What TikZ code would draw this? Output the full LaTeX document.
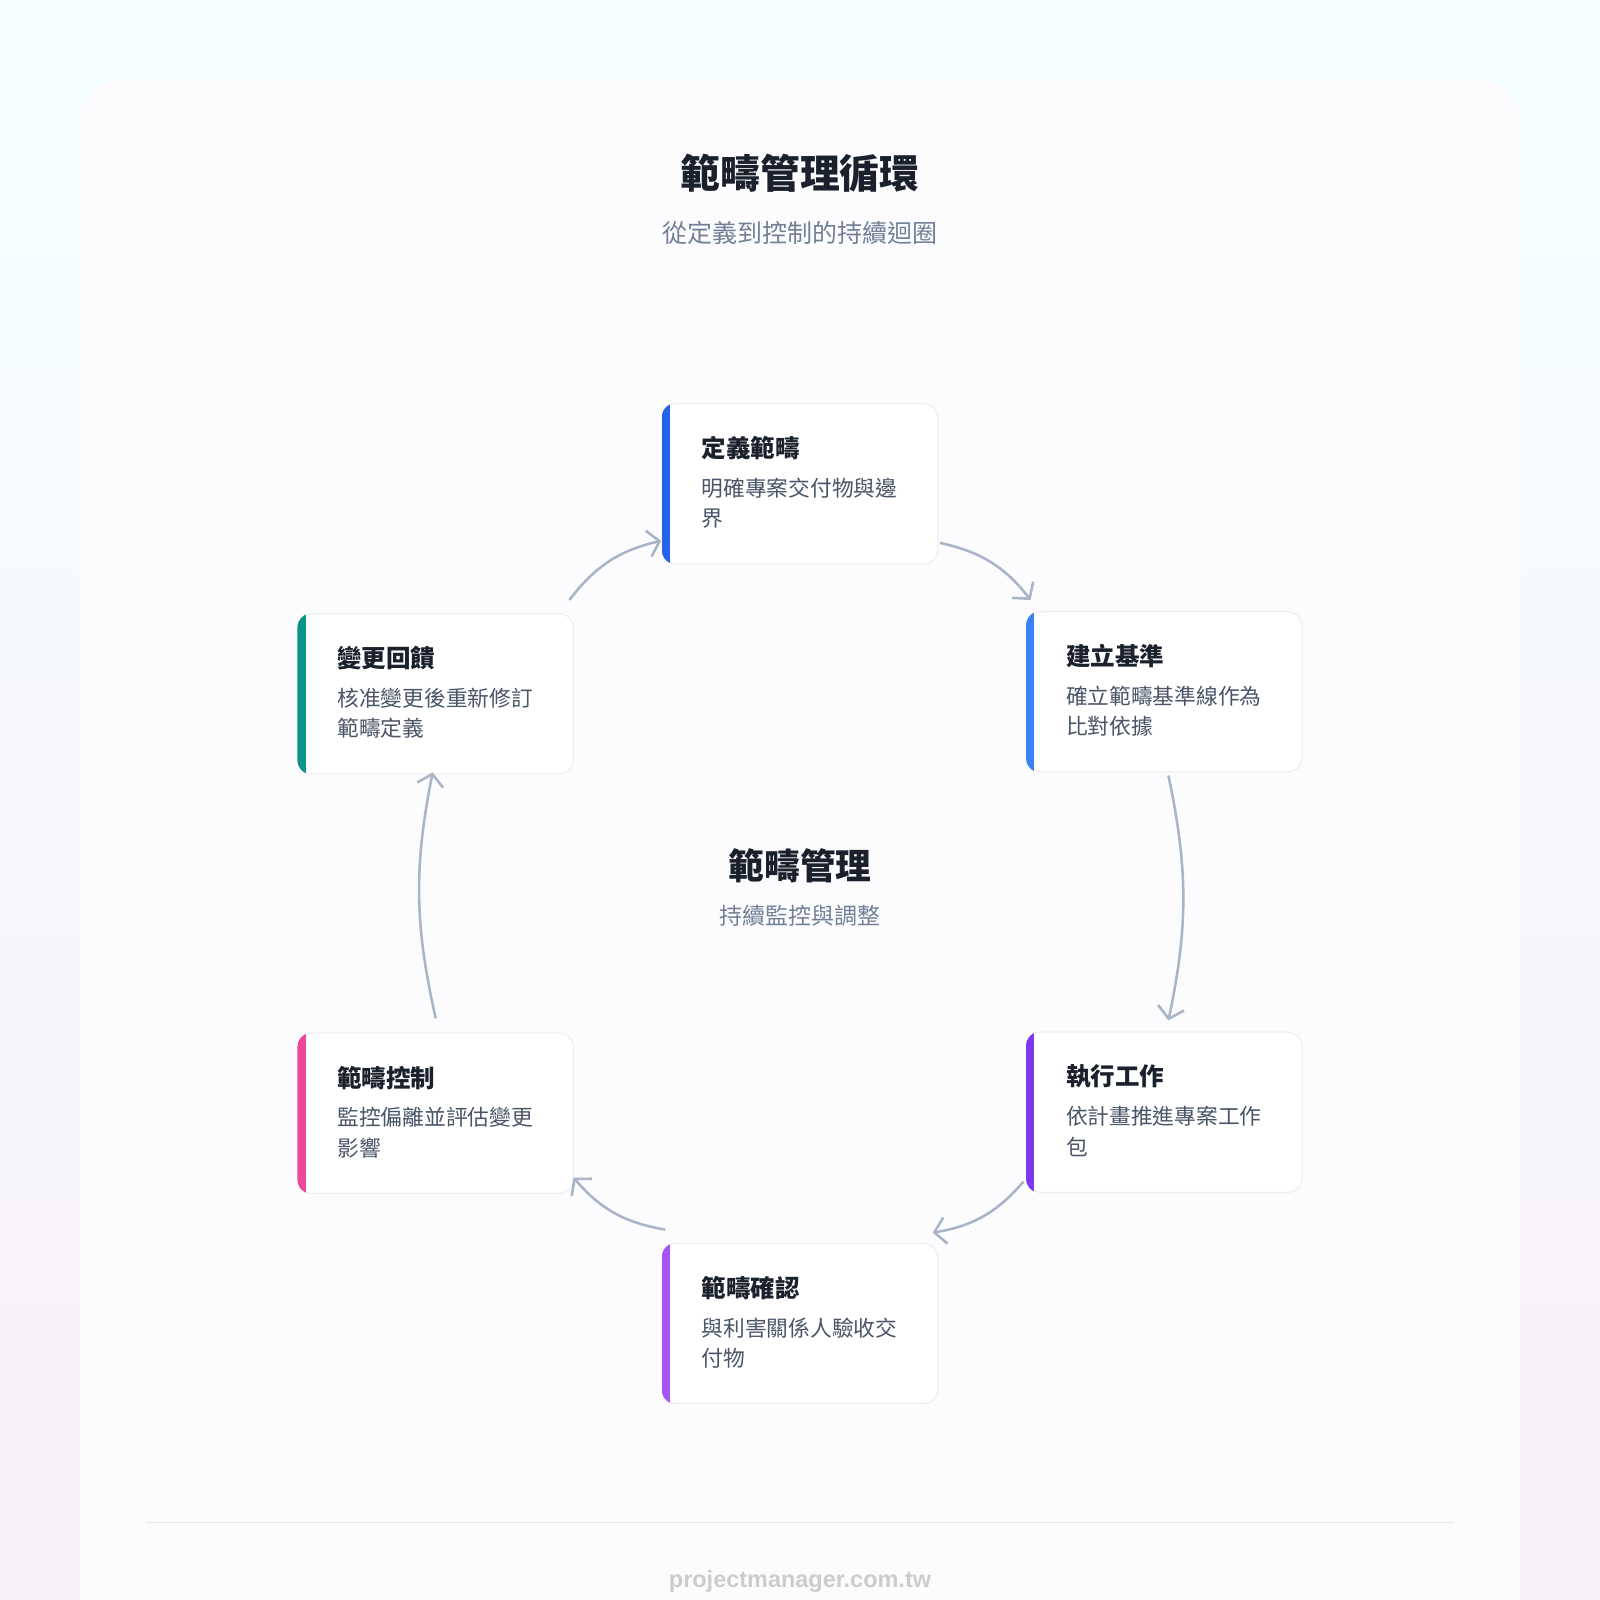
\documentclass[tikz,border=0pt]{standalone}
\usepackage{fontspec}
\setmainfont{Noto Sans CJK TC}
\newfontfamily\latinfont{Liberation Sans}
\usetikzlibrary{arrows.meta,positioning}
\definecolor{ink}{HTML}{1A202C}
\definecolor{muted}{HTML}{718096}
\definecolor{descgray}{HTML}{4A5568}
\definecolor{flow}{HTML}{A9B5C6}
\definecolor{cBlue}{HTML}{2563EB}
\definecolor{cSky}{HTML}{3B82F6}
\definecolor{cViolet}{HTML}{7C3AED}
\definecolor{cPurple}{HTML}{A855F7}
\definecolor{cPink}{HTML}{EC4899}
\definecolor{cTeal}{HTML}{0D9488}
\tikzset{
  stagebox/.style={draw=black!7,line width=1pt,fill=white,rounded corners=14pt,
    minimum width=270pt,minimum height=157pt,inner sep=0pt},
  stagetitle/.style={anchor=west,font=\fontsize{24}{27}\selectfont\bfseries,text=ink,inner sep=0pt},
  stagedesc/.style={anchor=north west,font=\fontsize{21.3}{30}\selectfont,text=descgray,
    inner sep=0pt,text width=222pt,align=left},
  flowarrow/.style={draw=flow,line width=2.5pt,-{Straight Barb[length=11pt,width=26pt,line width=2.5pt]}},
}
% one stage card: name, centre, colour, title, description
\newcommand{\stage}[5]{%
  \node[stagebox] (#1) at (#2) {};
  \begin{scope}
    \clip[rounded corners=14pt] (#1.south west) rectangle (#1.north east);
    \fill[#3] (#1.south west) rectangle ([xshift=8pt]#1.north west);
  \end{scope}
  \node[stagetitle] (#1-t) at ([xshift=39pt,yshift=-44pt]#1.north west) {#4};
  \node[stagedesc] (#1-d) at ([xshift=39pt,yshift=-73pt]#1.north west) {#5};
}
\begin{document}
\begin{tikzpicture}[x=1pt,y=-1pt]
  \shade[top color=white!92!cyan!50,bottom color=white!94!violet] (0,0) rectangle (1568,1568);
  \useasboundingbox (0,0) rectangle (1568,1568);
  \fill[white!97!blue!40,rounded corners=40pt] (78,78) rectangle (1490,1620);
  % titles
  \node[font=\fontsize{39}{44}\selectfont\bfseries,text=ink] (title) at (784,170) {範疇管理循環};
  \node[font=\fontsize{24.5}{28}\selectfont,text=muted] (subtitle) at (784,228) {從定義到控制的持續迴圈};
  % stages
  \stage{define}{784,474}{cBlue}{定義範疇}{明確專案交付物與邊\\界}
  \stage{baseline}{1141,678}{cSky}{建立基準}{確立範疇基準線作為\\比對依據}
  \stage{execute}{1141,1090}{cViolet}{執行工作}{依計畫推進專案工作\\包}
  \stage{verify}{784,1297}{cPurple}{範疇確認}{與利害關係人驗收交\\付物}
  \stage{control}{427,1091}{cPink}{範疇控制}{監控偏離並評估變更\\影響}
  \stage{feedback}{427,680}{cTeal}{變更回饋}{核准變更後重新修訂\\範疇定義}
  % centre
  \node[font=\fontsize{35}{40}\selectfont\bfseries,text=ink] (core) at (784,848) {範疇管理};
  \node[font=\fontsize{22.5}{26}\selectfont,text=muted] (coresub) at (784,897) {持續監控與調整};
  % flow arrows
  \coordinate (a1s) at (921,532); \coordinate (a1e) at (1010,588);
  \coordinate (a2s) at (1145,760); \coordinate (a2e) at (1145,1000);
  \coordinate (a3s) at (1003,1158); \coordinate (a3e) at (914,1208);
  \coordinate (a4s) at (652,1205); \coordinate (a4e) at (562,1154);
  \coordinate (a5s) at (427,998); \coordinate (a5e) at (424,757);
  \coordinate (a6s) at (558,588); \coordinate (a6e) at (648,530);
  \draw[flowarrow] (a1s) to[bend left=20] (a1e);
  \draw[flowarrow] (a2s) to[bend left=12] (a2e);
  \draw[flowarrow] (a3s) to[bend left=20] (a3e);
  \draw[flowarrow] (a4s) to[bend left=20] (a4e);
  \draw[flowarrow] (a5s) to[bend left=12] (a5e);
  \draw[flowarrow] (a6s) to[bend left=20] (a6e);
  % footer
  \draw[black!10,line width=1.2pt] (143,1492) coordinate (rule-l) -- (1425,1492) coordinate (rule-r);
  \node[font=\latinfont\fontsize{23}{26}\selectfont\bfseries,text=black!20] (footer) at (784,1550) {projectmanager.com.tw};
\end{tikzpicture}
\end{document}
